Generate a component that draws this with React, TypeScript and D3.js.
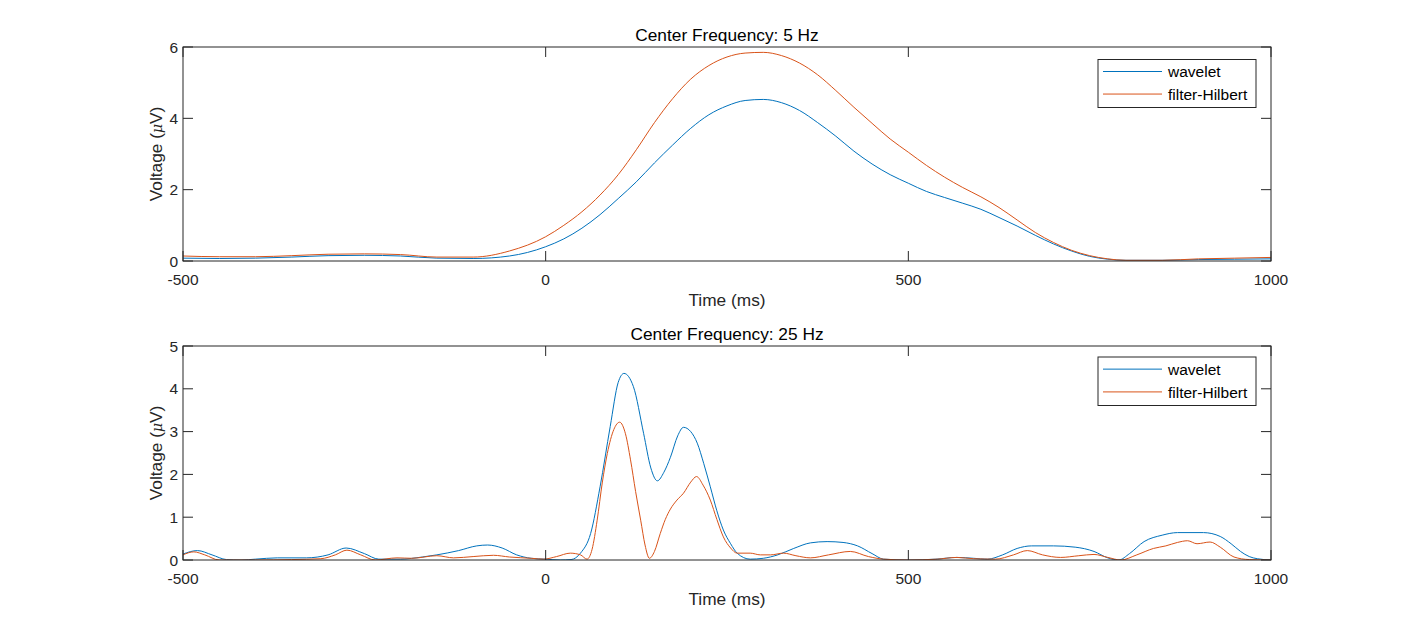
import React from "react";
import * as d3 from "d3";

const xTicks = [-500, 0, 500, 1000];
const seriesNames = ["wavelet", "filter-Hilbert"];
const colors = ["#0072BD", "#D95319"];

// 5 Hz panel
const t5 = [-500,-450,-400,-350,-300,-250,-200,-150,-100,-50,0,25,50,75,100,125,150,175,200,225,250,275,300,325,350,375,400,425,450,475,500,525,550,575,600,625,650,675,700,725,750,775,800,850,900,950,1000];
const wavelet5 = [0.08,0.07,0.08,0.11,0.15,0.16,0.14,0.08,0.07,0.14,0.40,0.62,0.92,1.30,1.75,2.22,2.75,3.25,3.72,4.10,4.35,4.50,4.53,4.44,4.22,3.88,3.50,3.08,2.72,2.42,2.18,1.95,1.78,1.62,1.45,1.22,0.98,0.72,0.48,0.28,0.13,0.05,0.02,0.02,0.04,0.05,0.06];
const hilbert5 = [0.14,0.12,0.12,0.15,0.19,0.20,0.18,0.11,0.11,0.28,0.68,1.00,1.38,1.85,2.42,3.12,3.88,4.55,5.10,5.48,5.72,5.83,5.85,5.76,5.55,5.22,4.78,4.31,3.86,3.42,3.05,2.68,2.35,2.06,1.80,1.50,1.15,0.80,0.52,0.30,0.15,0.06,0.02,0.02,0.06,0.08,0.10];
const yTicks5 = [0, 2, 4, 6];

// 25 Hz panel
const tW25 = [-500,-480,-460,-440,-420,-400,-370,-330,-300,-275,-250,-230,-200,-170,-150,-120,-95,-80,-60,-40,-20,0,20,35,48,62,75,89,100,108,121,135,145,154,163,172,182,190,200,209,218,227,236,245,255,264,282,300,320,342,365,388,410,430,450,466,500,538,567,590,609,630,650,670,700,730,756,775,790,805,825,850,871,907,930,945,958,970,981,1000];
const wavelet25 = [0.14,0.22,0.12,0.01,0.0,0.02,0.05,0.05,0.12,0.28,0.15,0.02,0.02,0.07,0.12,0.22,0.33,0.35,0.28,0.12,0.04,0.02,0.0,0.01,0.16,0.62,1.71,3.12,4.15,4.36,4.05,2.96,2.15,1.85,2.05,2.40,2.90,3.10,3.00,2.73,2.25,1.71,1.15,0.70,0.38,0.16,0.02,0.04,0.12,0.27,0.40,0.43,0.41,0.33,0.15,0.02,0.0,0.02,0.06,0.04,0.02,0.12,0.27,0.33,0.33,0.30,0.20,0.05,0.0,0.15,0.43,0.58,0.64,0.64,0.55,0.38,0.20,0.08,0.03,0.0];
const tH25 = [-500,-485,-470,-450,-400,-350,-310,-290,-274,-255,-235,-205,-185,-150,-127,-100,-72,-50,-20,-3,15,34,48,57,64,71,78,85,94,102,110,117,124,131,137,143,150,158,165,172,181,190,200,208,217,227,236,245,255,264,282,296,310,328,345,365,390,420,445,466,500,540,567,590,620,645,664,685,710,735,756,775,793,815,838,855,871,885,898,916,930,949,970,1000];
const hilbert25 = [0.12,0.19,0.12,0.0,0.0,0.01,0.03,0.12,0.23,0.12,0.0,0.05,0.04,0.10,0.05,0.08,0.11,0.07,0.04,0.02,0.08,0.16,0.12,0.02,0.25,0.93,1.80,2.49,3.05,3.22,2.95,2.34,1.60,0.93,0.35,0.04,0.20,0.62,0.95,1.19,1.40,1.56,1.82,1.95,1.75,1.40,0.95,0.54,0.28,0.16,0.16,0.12,0.12,0.16,0.10,0.05,0.12,0.20,0.08,0.02,0.0,0.02,0.06,0.03,0.02,0.12,0.22,0.12,0.06,0.10,0.13,0.06,0.0,0.12,0.27,0.33,0.41,0.45,0.38,0.42,0.30,0.07,0.01,0.0];
const yTicks25 = [0, 1, 2, 3, 4, 5];

const FONT = "'Liberation Sans', Arial, Helvetica, sans-serif";
const TXT = "#262626";

type PanelProps = {
  top: number; bottom: number; left: number; right: number;
  title: string; yMax: number; yTicks: number[];
  series: { t: number[]; v: number[] }[];
  legendTop: number; legendBottom: number; id: string;
};

function Panel(p: PanelProps) {
  const x = d3.scaleLinear().domain([-500, 1000]).range([p.left, p.right]);
  const y = d3.scaleLinear().domain([0, p.yMax]).range([p.bottom, p.top]);
  const line = d3.line<[number, number]>().x(d => x(d[0])).y(d => y(d[1])).curve(d3.curveMonotoneX);
  const tl = 10;
  const midX = (p.left + p.right) / 2;
  const midY = (p.top + p.bottom) / 2;
  const lgL = 1098, lgR = 1256;
  const lgH = p.legendBottom - p.legendTop;
  const rowY = [p.legendTop + lgH * 0.25, p.legendTop + lgH * 0.72];
  return (
    <g>
      <defs>
        <clipPath id={p.id}>
          <rect x={p.left} y={p.top} width={p.right - p.left} height={p.bottom - p.top} />
        </clipPath>
      </defs>
      <rect x={p.left} y={p.top} width={p.right - p.left} height={p.bottom - p.top} fill="white" />
      <g clipPath={`url(#${p.id})`}>
        {p.series.map((s, i) => (
          <path key={i} d={line(s.t.map((t, k) => [t, s.v[k]] as [number, number])) || ""}
            fill="none" stroke={colors[i]} strokeWidth={1} />
        ))}
      </g>
      {xTicks.map(t => (
        <g key={"x" + t}>
          <line x1={x(t)} x2={x(t)} y1={p.bottom} y2={p.bottom - tl} stroke={TXT} strokeWidth={1} />
          <line x1={x(t)} x2={x(t)} y1={p.top} y2={p.top + tl} stroke={TXT} strokeWidth={1} />
          <text x={x(t)} y={p.bottom + 24} textAnchor="middle" fontSize={15.5} fill={TXT} fontFamily={FONT}>{t}</text>
        </g>
      ))}
      {p.yTicks.map(t => (
        <g key={"y" + t}>
          <line x1={p.left} x2={p.left + tl} y1={y(t)} y2={y(t)} stroke={TXT} strokeWidth={1} />
          <line x1={p.right} x2={p.right - tl} y1={y(t)} y2={y(t)} stroke={TXT} strokeWidth={1} />
          <text x={p.left - 5} y={y(t)} dy="0.36em" textAnchor="end" fontSize={15.5} fill={TXT} fontFamily={FONT}>{t}</text>
        </g>
      ))}
      <rect x={p.left} y={p.top} width={p.right - p.left} height={p.bottom - p.top} fill="none" stroke={TXT} strokeWidth={1} />
      <text x={midX} y={p.top - 6} textAnchor="middle" fontSize={17.3} fill="#000" fontFamily={FONT}>{p.title}</text>
      <text x={midX} y={p.bottom + 45} textAnchor="middle" fontSize={17.3} fill={TXT} fontFamily={FONT}>Time (ms)</text>
      <text transform={`translate(${p.left - 21},${midY}) rotate(-90)`} textAnchor="middle" fontSize={17.3} fill={TXT} fontFamily={FONT}>
        Voltage (<tspan fontStyle="italic" fontFamily="'DejaVu Serif', serif" fontSize={14}>μ</tspan>V)
      </text>
      <rect x={lgL} y={p.legendTop} width={lgR - lgL} height={lgH} fill="white" stroke={TXT} strokeWidth={1} />
      {seriesNames.map((n, i) => (
        <g key={n}>
          <line x1={1103} x2={1162} y1={rowY[i]} y2={rowY[i]} stroke={colors[i]} strokeWidth={1} />
          <text x={1168} y={rowY[i]} dy="0.36em" fontSize={15.5} fill="#000" fontFamily={FONT}>{n}</text>
        </g>
      ))}
    </g>
  );
}

export default function App() {
  return (
    <svg width={1406} height={630} style={{ position: "absolute", left: 0, top: 0, background: "white" }}>
      <rect x={0} y={0} width={1406} height={630} fill="white" />
      <Panel id="c1" top={47} bottom={261} left={183} right={1271} title="Center Frequency: 5 Hz"
        yMax={6} yTicks={yTicks5} legendTop={59.5} legendBottom={107.5}
        series={[{ t: t5, v: wavelet5 }, { t: t5, v: hilbert5 }]} />
      <Panel id="c2" top={346} bottom={560} left={183} right={1271} title="Center Frequency: 25 Hz"
        yMax={5} yTicks={yTicks25} legendTop={357} legendBottom={405.5}
        series={[{ t: tW25, v: wavelet25 }, { t: tH25, v: hilbert25 }]} />
    </svg>
  );
}
